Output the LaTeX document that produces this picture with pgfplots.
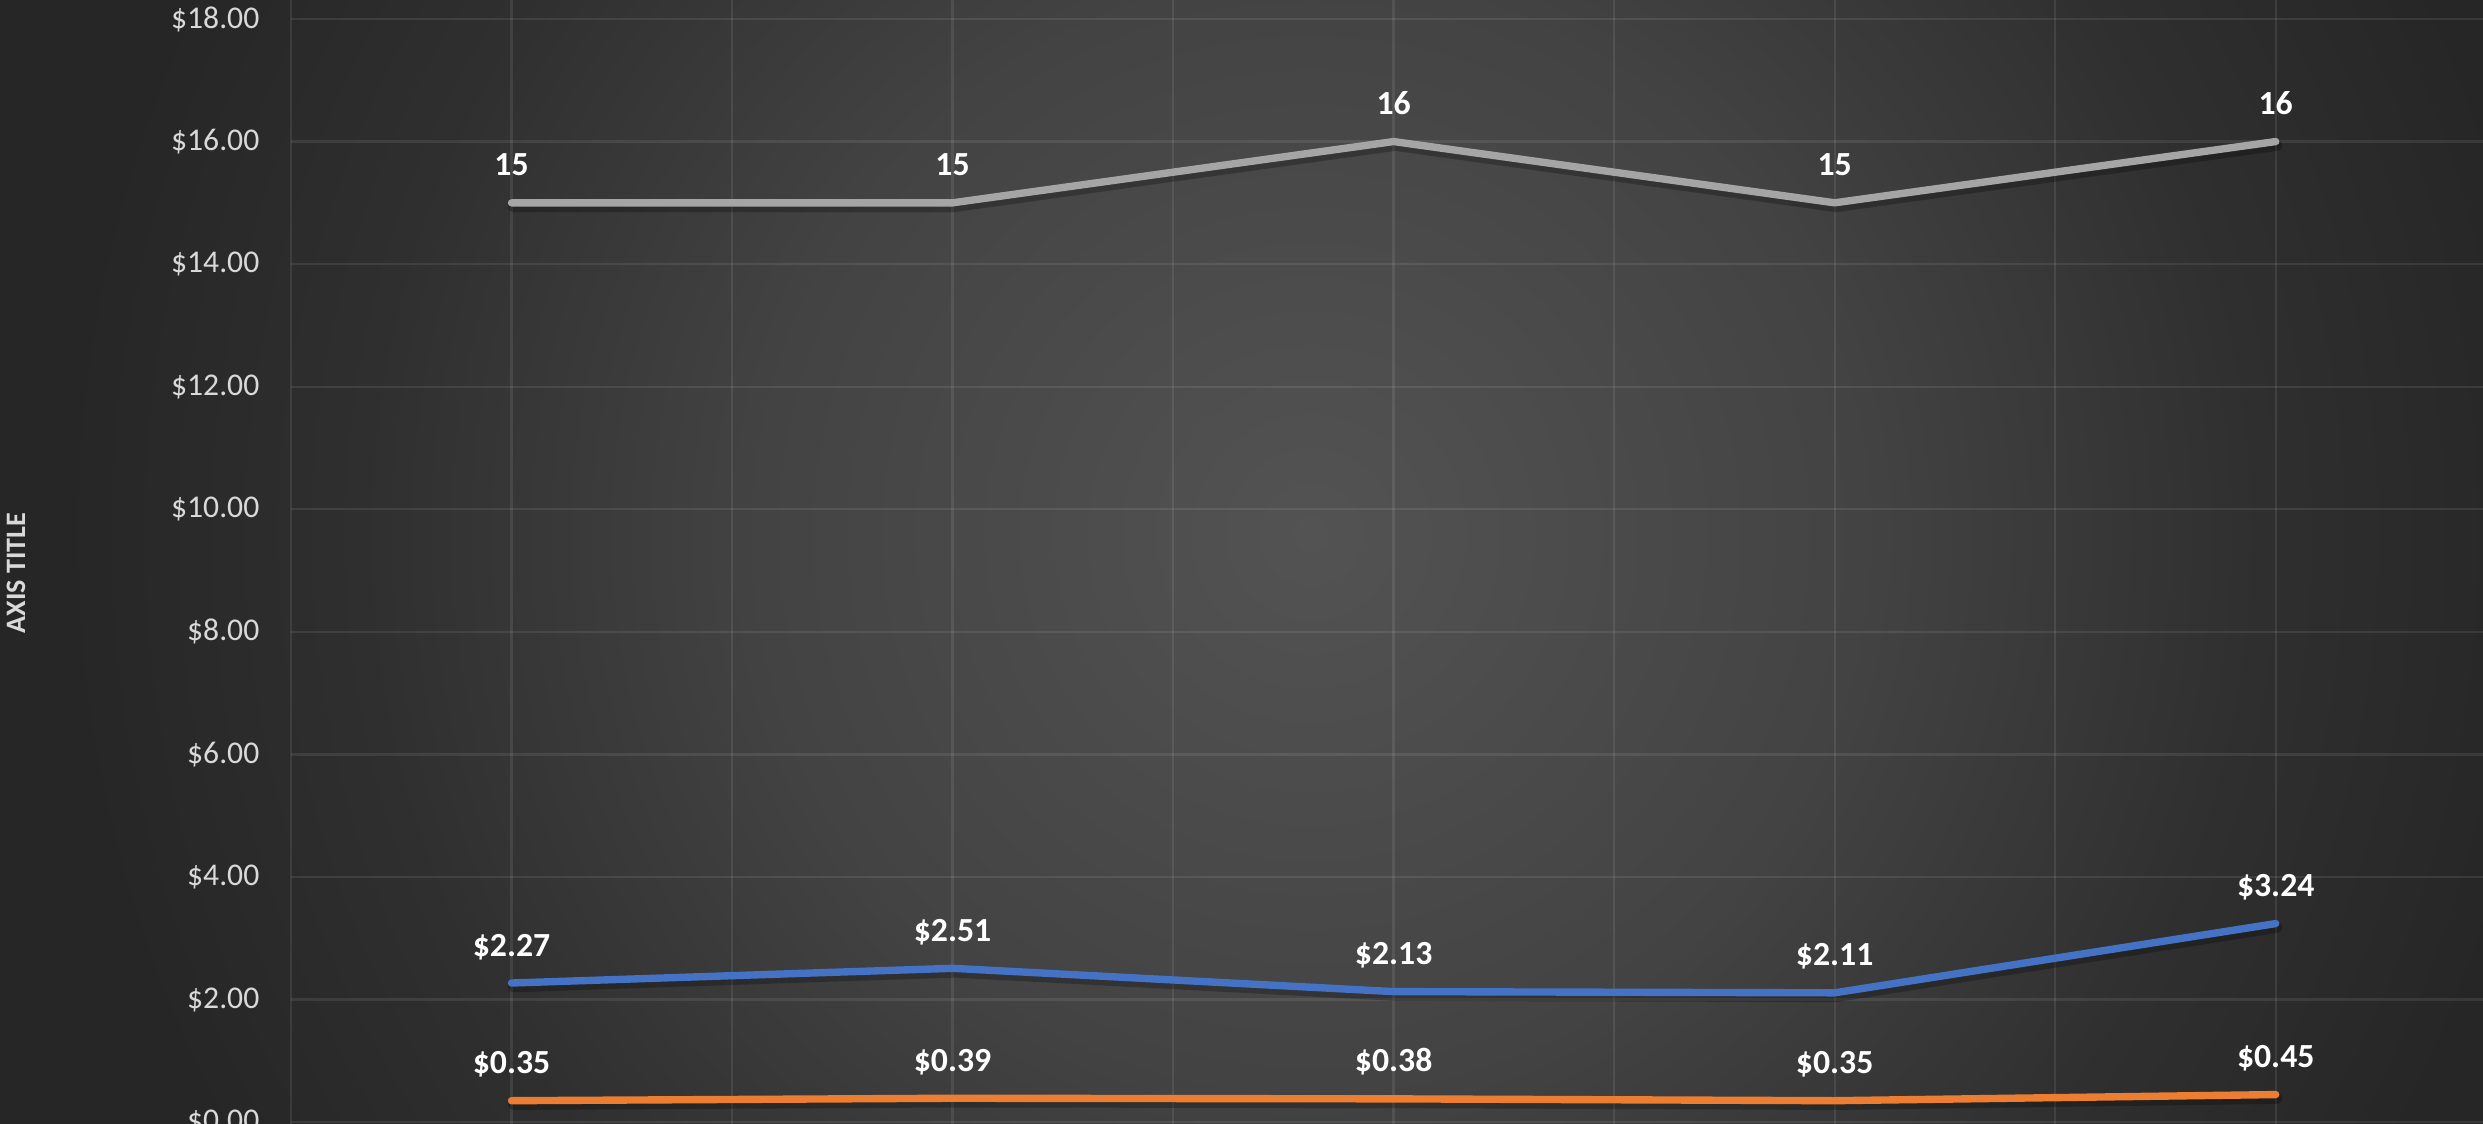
\documentclass[border=0pt]{standalone}
\usepackage{pgfplots}
\pgfplotsset{compat=1.18}
\usepackage{fontspec}
\setmainfont{Carlito}

\definecolor{sgrey}{HTML}{A5A5A5}
\definecolor{sblue}{HTML}{4472C4}
\definecolor{sorange}{HTML}{ED7D31}
\definecolor{ticktext}{HTML}{D9D9D9}
\definecolor{bgc0}{HTML}{535353}
\definecolor{bgc1}{HTML}{434343}
\definecolor{bgc2}{HTML}{2F2F2F}
\definecolor{bgc3}{HTML}{262626}
\pgfdeclareradialshading{chartbg}{\pgfpoint{0bp}{0bp}}{color(0bp)=(bgc0); color(11bp)=(bgc1); color(19bp)=(bgc2); color(25bp)=(bgc3); color(50bp)=(bgc3)}

\begin{document}
\begin{tikzpicture}
% chart area background
\fill[bgc3] (-2.91,0) rectangle (21.92,11.24);
\begin{scope}
  \clip (-2.91,0) rectangle (21.92,11.24);
  \shade[shading=chartbg] (10.2,5.9) circle (12.5);
\end{scope}

\begin{axis}[
    scale only axis,
    width=21.92cm, height=11.24cm,
    xmin=-0.5, xmax=4.47,
    ymin=-0.03, ymax=18.31,
    axis line style={draw=none},
    tick style={draw=none},
    xtick={0,1,2,3,4},
    xticklabels={},
    minor xtick={-0.5,0.5,1.5,2.5,3.5},
    ytick={0,2,4,6,8,10,12,14,16,18},
    yticklabels={\$0.00,\$2.00,\$4.00,\$6.00,\$8.00,\$10.00,\$12.00,\$14.00,\$16.00,\$18.00},
    yticklabel style={anchor=east, inner sep=0pt, xshift=-0.31cm,
        text=ticktext, font=\fontsize{9}{11}\selectfont},
    xmajorgrids, xminorgrids, ymajorgrids,
    grid style={white, opacity=0.085, line width=0.65pt},
    minor grid style={white, opacity=0.085, line width=0.65pt},
    point meta=explicit symbolic,
    nodes near coords align={anchor=base},
    every node near coord/.append style={yshift=0.27cm, text=white,
        font=\bfseries\fontsize{9.6}{11}\selectfont},
    clip=false,
]

% soft shadows under the lines
\addplot[black, opacity=0.25, line width=3pt, line cap=round, line join=round, xshift=0.015cm, yshift=-0.04cm]
    coordinates {(0,15)(1,15)(2,16)(3,15)(4,16)};
\addplot[black, opacity=0.25, line width=3pt, line cap=round, line join=round, xshift=0.015cm, yshift=-0.04cm]
    coordinates {(0,2.27)(1,2.51)(2,2.13)(3,2.11)(4,3.24)};
\addplot[black, opacity=0.25, line width=3pt, line cap=round, line join=round, xshift=0.015cm, yshift=-0.04cm]
    coordinates {(0,0.35)(1,0.39)(2,0.38)(3,0.35)(4,0.45)};

% series
\addplot[sgrey, line width=2.1pt, line cap=round, line join=round, nodes near coords]
    coordinates {(0,15)[15] (1,15)[15] (2,16)[16] (3,15)[15] (4,16)[16]};
\addplot[sblue, line width=2.1pt, line cap=round, line join=round, nodes near coords]
    coordinates {(0,2.27)[\$2.27] (1,2.51)[\$2.51] (2,2.13)[\$2.13] (3,2.11)[\$2.11] (4,3.24)[\$3.24]};
\addplot[sorange, line width=2.1pt, line cap=round, line join=round, nodes near coords]
    coordinates {(0,0.35)[\$0.35] (1,0.39)[\$0.39] (2,0.38)[\$0.38] (3,0.35)[\$0.35] (4,0.45)[\$0.45]};
\end{axis}

\node[rotate=90, text=ticktext, font=\bfseries\fontsize{8}{10}\selectfont] at (-2.75,5.51) {AXIS TITLE};

\pgfresetboundingbox
\useasboundingbox (-2.91,0) rectangle (21.92,11.24);
\end{tikzpicture}
\end{document}
